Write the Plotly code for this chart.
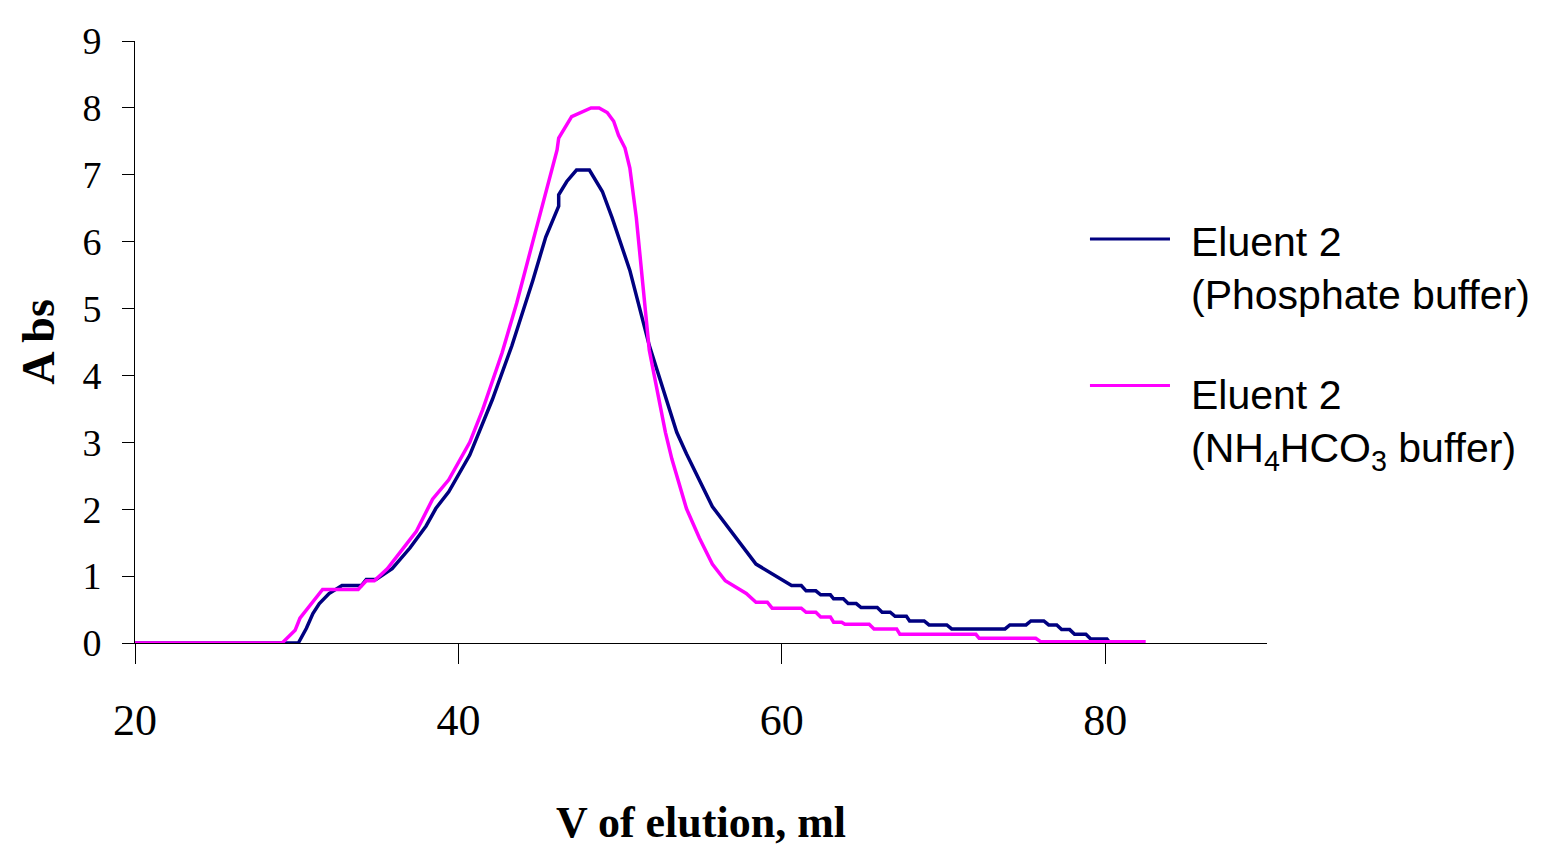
import plotly.graph_objects as go

# Phosphate buffer (navy)
x_phos = [20, 30.1, 30.6, 31.0, 31.4, 32.0, 32.8, 34.0, 34.3, 34.9, 35.9, 37.0, 38.0, 38.6, 39.4,
          40.7, 42.1, 43.3, 44.6, 45.4, 46.2, 46.2, 46.7, 47.3, 48.1, 48.9, 49.5, 50.6, 51.8,
          53.5, 54.1, 55.7, 58.4, 60.6, 61.2, 61.5, 62.1, 62.4, 63.0, 63.2, 63.8, 64.1, 64.6,
          64.9, 65.9, 66.2, 66.7, 67.0, 67.7, 67.9, 68.8, 69.1, 70.2, 70.5, 73.8, 74.1, 75.1,
          75.4, 76.2, 76.5, 77.0, 77.3, 77.8, 78.1, 78.8, 79.1, 80.1, 80.3]
y_phos = [0, 0, 0.22, 0.44, 0.59, 0.74, 0.86, 0.86, 0.95, 0.95, 1.11, 1.42, 1.75, 2.01, 2.26,
          2.81, 3.64, 4.44, 5.42, 6.07, 6.53, 6.7, 6.9, 7.07, 7.07, 6.75, 6.36, 5.57, 4.45,
          3.15, 2.83, 2.04, 1.18, 0.86, 0.86, 0.78, 0.78, 0.72, 0.72, 0.66, 0.66, 0.59, 0.59,
          0.53, 0.53, 0.46, 0.46, 0.40, 0.40, 0.33, 0.33, 0.27, 0.27, 0.21, 0.21, 0.27, 0.27,
          0.33, 0.33, 0.27, 0.27, 0.20, 0.20, 0.13, 0.13, 0.06, 0.06, 0]

# NH4HCO3 buffer (magenta)
x_nh4 = [20, 29.1, 29.9, 30.2, 31.6, 33.8, 34.3, 34.8, 35.6, 37.4, 38.4, 39.4, 40.7, 41.5, 42.7,
         43.6, 44.6, 45.5, 46.1, 46.2, 47.0, 48.2, 48.7, 49.2, 49.6, 49.9, 50.3, 50.6, 51.0,
         51.4, 51.8, 52.8, 53.2, 54.1, 54.9, 55.7, 56.5, 57.8, 58.4, 59.1, 59.4, 61.2, 61.5,
         62.1, 62.4, 63.0, 63.2, 63.7, 63.9, 65.4, 65.7, 67.1, 67.3, 72.0, 72.2, 75.7, 76.0, 82.5]
y_nh4 = [0, 0, 0.19, 0.37, 0.8, 0.8, 0.93, 0.93, 1.11, 1.67, 2.15, 2.44, 3.0, 3.49, 4.34,
         5.08, 6.0, 6.85, 7.37, 7.55, 7.87, 8.0, 8.0, 7.93, 7.8, 7.59, 7.4, 7.1, 6.36,
         5.37, 4.38, 3.15, 2.75, 2.01, 1.57, 1.18, 0.93, 0.74, 0.61, 0.61, 0.52, 0.52, 0.46,
         0.46, 0.39, 0.39, 0.31, 0.31, 0.28, 0.28, 0.21, 0.21, 0.13, 0.13, 0.07, 0.07, 0.02, 0.02]

x_ticks = [20, 40, 60, 80]
y_ticks = [0, 1, 2, 3, 4, 5, 6, 7, 8, 9]

NAVY = "#000080"
MAGENTA = "#FF00FF"

fig = go.Figure()
fig.add_trace(go.Scatter(x=x_phos, y=y_phos, mode="lines", name="Eluent 2 (Phosphate buffer)",
                         line=dict(color=NAVY, width=3.5), showlegend=False))
fig.add_trace(go.Scatter(x=x_nh4, y=y_nh4, mode="lines", name="Eluent 2 (NH4HCO3 buffer)",
                         line=dict(color=MAGENTA, width=3.5), showlegend=False))

serif = "Liberation Serif, Times New Roman, serif"
sans = "Liberation Sans, Arial, sans-serif"

fig.update_layout(
    width=1554, height=848,
    margin=dict(l=127, r=295, t=27, b=213),
    paper_bgcolor="white", plot_bgcolor="white",
    xaxis=dict(range=[20, 90], tickvals=x_ticks, ticks="outside", ticklen=20, tickwidth=1,
               tickcolor="black", showline=True, linecolor="black", linewidth=1,
               showgrid=False, zeroline=False, ticklabelstandoff=18,
               tickfont=dict(family=serif, size=44, color="black"),
               title=dict(text="<b>V of elution, ml</b>", standoff=62,
                          font=dict(family=serif, size=44, color="black"))),
    yaxis=dict(range=[0, 9], tickvals=y_ticks, ticks="outside", ticklen=12, tickwidth=1,
               tickcolor="black", showline=True, linecolor="black", linewidth=1,
               showgrid=False, zeroline=False, ticklabelstandoff=13,
               tickfont=dict(family=serif, size=38, color="black"),
               title=dict(text="<b>A bs</b>", standoff=13,
                          font=dict(family=serif, size=46, color="black"))),
)

# Legend drawn at the right (paper coordinates)
legend_items = [
    (NAVY, 0.671, 0.6218, "Eluent 2<br>(Phosphate buffer)"),
    (MAGENTA, 0.4276, 0.3636, "Eluent 2<br>(NH<sub>4</sub>HCO<sub>3</sub> buffer)"),
]
for color, ly, ty, txt in legend_items:
    fig.add_shape(type="line", xref="paper", yref="paper", x0=0.8436, x1=0.9143, y0=ly, y1=ly,
                  line=dict(color=color, width=3))
    fig.add_annotation(xref="paper", yref="paper", x=0.931, y=ty, xanchor="left", yanchor="middle",
                       text=txt, showarrow=False, align="left",
                       font=dict(family=sans, size=41, color="black"))

fig.write_html("out.html")
